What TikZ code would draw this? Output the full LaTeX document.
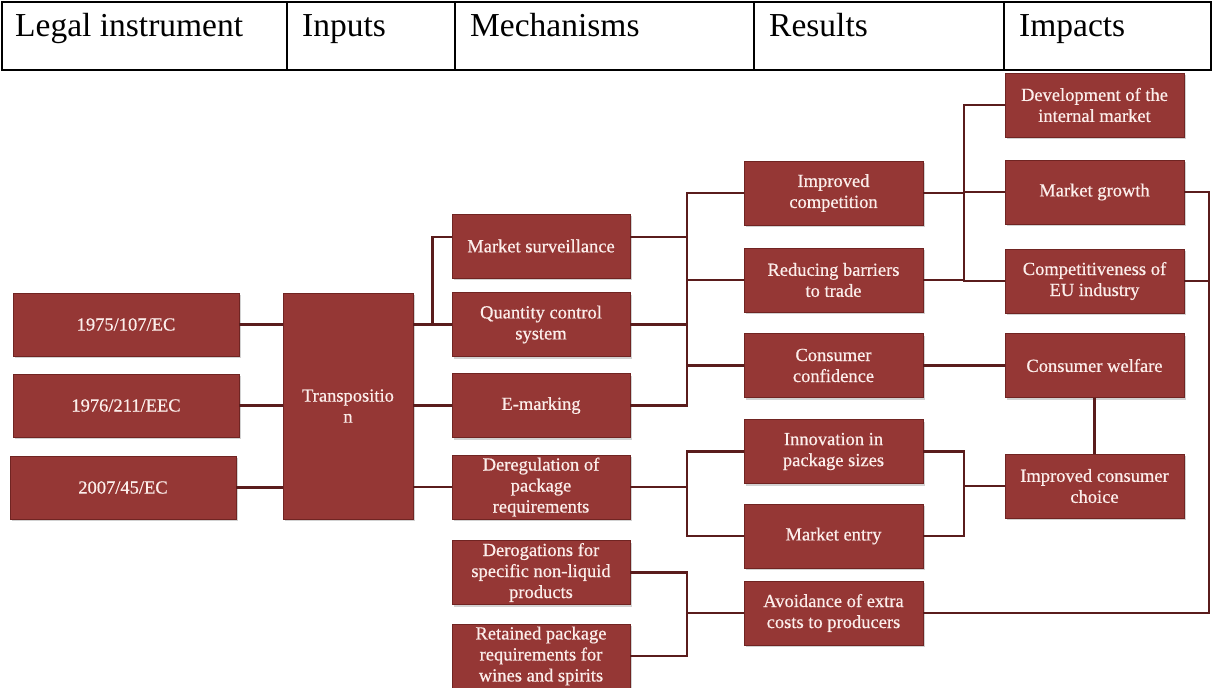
\documentclass[tikz,border=0pt]{standalone}
\usepackage{fontspec}
\setmainfont{Liberation Serif}
\newfontfamily\boxfont[FakeBold=0.6]{Liberation Serif}
\usetikzlibrary{calc,shadows}

\definecolor{boxred}{RGB}{149,55,53}
\definecolor{boxrim}{RGB}{112,36,34}
\definecolor{boxink}{RGB}{252,238,235}
\definecolor{wirered}{RGB}{90,28,28}

\tikzset{
	box/.style={draw=boxrim, line width=0.8pt, fill=boxred, text=boxink, align=center,
		inner sep=0pt, font=\boxfont\fontsize{18.5}{21}\selectfont,
		drop shadow={shadow xshift=1.5pt, shadow yshift=-2pt, fill=black!35, opacity=0.5}},
	legal/.style={box, minimum width=226pt, minimum height=63pt},
	mech/.style={box, minimum width=178pt, minimum height=64pt},
	result/.style={box, minimum width=179pt, minimum height=64pt},
	wire/.style={draw=wirered, line width=2.8pt},
	elbow/.style={wire, to path={-| ($(\tikztostart)!0.5!(\tikztotarget)$) |- (\tikztotarget)}},
	head/.style={anchor=base west, inner sep=0pt, font=\fontsize{33.5}{38}\selectfont},
}

\begin{document}
\begin{tikzpicture}[x=1pt, y=-1pt]
	\useasboundingbox[fill=white] (0,0) rectangle (1213,688);
	
	% table head
	\draw[line width=2pt] (2,2) rectangle (1211,70);
	\foreach \x in {287,455,754,1004}
		\draw[line width=1.6pt] (\x,2) -- (\x,70);
	\node[head] (hlegal) at (15,36) {Legal instrument};
	\node[head] (hinputs) at (302,36) {Inputs};
	\node[head] (hmech) at (470,36) {Mechanisms};
	\node[head] (hresults) at (769,36) {Results};
	\node[head] (himpacts) at (1019,36) {Impacts};
	
	% legal instruments and inputs
	\node[legal] (l1975) at (126,324.5) {1975/107/EC};
	\node[legal] (l1976) at (126,405.5) {1976/211/EEC};
	\node[legal] (l2007) at (123,487.5) {2007/45/EC};
	\node[box, minimum width=130pt, minimum height=226pt] (TR) at (348,406) {Transpositio\\n};
	
	% mechanisms
	\node[mech] (MS) at (541,246) {Market surveillance};
	\node[mech] (QC) at (541,324.5) {Quantity control\\system};
	\node[mech] (EM) at (541,405.5) {E-marking};
	\node[mech] (DR) at (541,487) {Deregulation of\\package\\requirements};
	\node[mech] (DG) at (541,572.5) {Derogations for\\specific non-liquid\\products};
	\node[mech] (RT) at (541,656) {Retained package\\requirements for\\wines and spirits};
	
	% results
	\node[result] (IC) at (833.5,193) {Improved\\competition};
	\node[result] (RB) at (833.5,280) {Reducing barriers\\to trade};
	\node[result] (CC) at (833.5,365.5) {Consumer\\confidence};
	\node[result] (IN) at (833.5,451.5) {Innovation in\\package sizes};
	\node[result] (ME) at (833.5,536) {Market entry};
	\node[result] (AV) at (833.5,613) {Avoidance of extra\\costs to producers};
	
	% impacts
	\node[result] (DV) at (1094.5,105) {Development of the\\internal market};
	\node[result] (MG) at (1094.5,192) {Market growth};
	\node[result] (CE) at (1094.5,281) {Competitiveness of\\EU industry};
	\node[result] (CW) at (1094.5,365.5) {Consumer welfare};
	\node[result] (ICC) at (1094.5,486) {Improved consumer\\choice};
	
	\coordinate (rbus) at (1209,400);
	
	\path [wire]
	(l1975.east) edge (TR.west |- l1975.east)
	(l1976.east) edge (TR.west |- l1976.east)
	(l2007.east) edge (TR.west |- l2007.east)
	(CW.south) edge (ICC.north);
	
	\path [elbow]
	(TR.east |- QC.west) edge ([yshift=9pt]MS.west)
	(TR.east |- QC.west) edge (QC.west)
	(TR.east |- EM.west) edge (EM.west)
	(TR.east |- DR.west) edge (DR.west)
	([yshift=9pt]MS.east) edge (IC.west)
	([yshift=9pt]MS.east) edge (RB.west)
	(QC.east) edge (RB.west)
	(QC.east) edge (CC.west)
	(EM.east) edge (CC.west)
	(DR.east) edge (IN.west)
	(DR.east) edge (ME.west)
	(DG.east) edge (AV.west)
	(RT.east) edge (AV.west)
	(IC.east) edge (DV.west)
	(IC.east) edge (MG.west)
	(IC.east) edge (CE.west)
	(RB.east) edge (CE.west)
	(CC.east) edge (CW.west)
	(IN.east) edge (ICC.west)
	(ME.east) edge (ICC.west);
	
	\draw[wire] (MG.east) -| (rbus) |- (AV.east);
	\draw[wire] (CE.east) -- (CE.east -| rbus);
\end{tikzpicture}
\end{document}
